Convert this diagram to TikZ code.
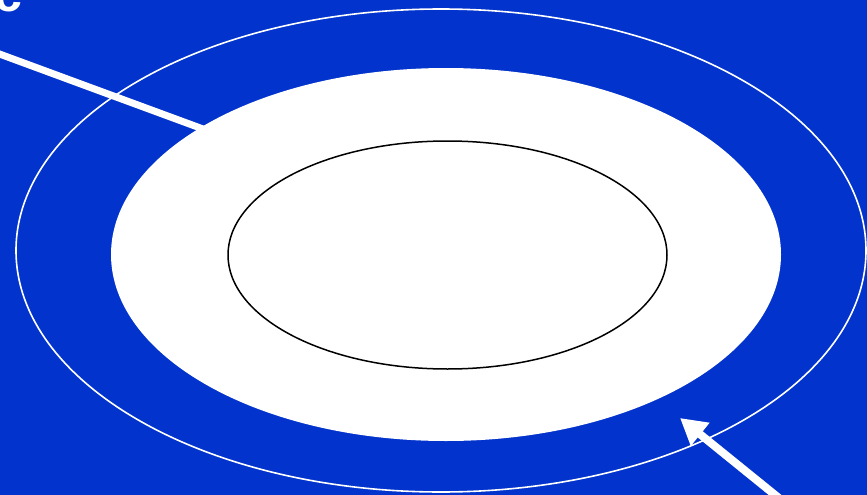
\documentclass[tikz,border=0pt]{standalone}
\usepackage{fontspec}
\setsansfont{Liberation Sans}
\usetikzlibrary{arrows.meta}
\definecolor{bgblue}{RGB}{2,51,204}
\begin{document}
\begin{tikzpicture}[x=1pt,y=-1pt,
  thinring/.style={draw=white,line width=1.6pt},
  whitedisc/.style={fill=white},
  innerring/.style={draw=black,line width=1.5pt},
  pointer/.style={draw=white,line width=7pt},
  bigarrow/.style={draw=white,line width=8pt,-{Triangle[length=26pt,width=28pt]}}]
\useasboundingbox (0,0) rectangle (867,495);
\fill[bgblue] (0,0) rectangle (867,495);
\node[anchor=base west,inner sep=0pt,text=white,font=\sffamily\bfseries\fontsize{50}{50}\selectfont] (lbl) at (-6,11.5) {c};
\coordinate (p0) at (-10,50.5);
\coordinate (p1) at (260,150);
\draw[pointer] (p0) -- (p1);
\draw[thinring] (441,250.5) ellipse [x radius=425, y radius=241.5];
\fill[whitedisc] (446,254.5) ellipse [x radius=335, y radius=186.5];
\draw[innerring] (447.5,255) ellipse [x radius=219.5, y radius=114];
\coordinate (a0) at (785,503);
\coordinate (a1) at (680,418);
\draw[bigarrow] (a0) -- (a1);
\end{tikzpicture}
\end{document}
